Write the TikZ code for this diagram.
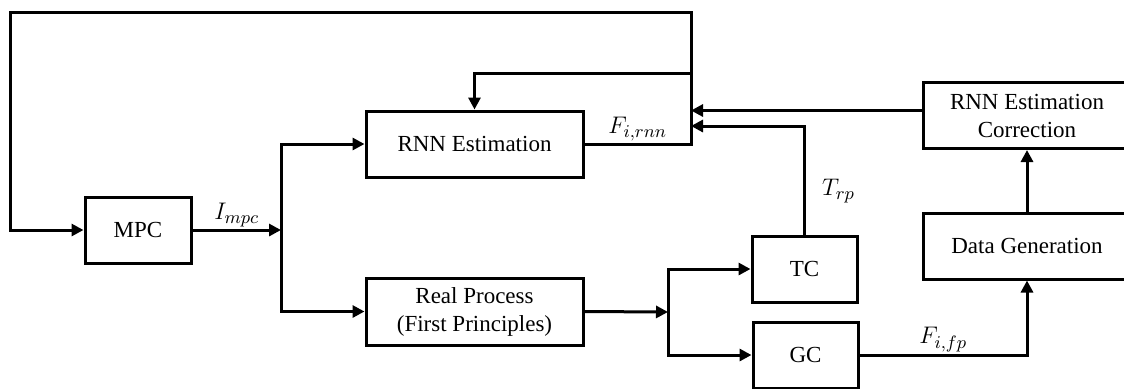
\documentclass[tikz,border=0pt]{standalone}
\usepackage{amsmath}
\usepackage{fontspec}
\setmainfont{Liberation Serif}
\usepackage{tikz}
\usetikzlibrary{arrows.meta,positioning,calc}
\tikzstyle{bloque} = [draw, line width=1.5pt, rectangle, align=center, inner sep=2pt, font=\fontsize{11.5}{14}\selectfont]
\tikzstyle{linea} = [line width=1.5pt]
\tikzstyle{senal} = [linea, -{Triangle[length=6pt,width=6pt]}]
\tikzstyle{etiqueta} = [font=\fontsize{12.5}{14}\selectfont, inner sep=1pt]

\begin{document}
\begin{tikzpicture}[x=0.5pt,y=-0.5pt]
	\useasboundingbox (0,0) rectangle (1124,388);
	\clip (0,0) rectangle (1124,388);
	% bloques
	\node[bloque, minimum width=53pt, minimum height=33pt] (mpc) at (138,230) {MPC};
	\node[bloque, minimum width=108.5pt, minimum height=33pt] (rnn) at (474.5,144) {RNN Estimation};
	\node[bloque, minimum width=108.5pt, minimum height=33.5pt] (rp) at (474.5,311.5) {Real Process\\(First Principles)};
	\node[bloque, minimum width=52.5pt, minimum height=33pt] (tc) at (804.5,269) {TC};
	\node[bloque, minimum width=52.5pt, minimum height=33pt] (gc) at (805.5,355) {GC};
	\node[bloque, minimum width=104pt, minimum height=33pt] (corr) at (1027,115.5) {RNN Estimation\\Correction};
	\node[bloque, minimum width=104pt, minimum height=33pt] (dg) at (1027,246) {Data Generation};
	% puntos de union
	\coordinate (j1) at (281,230);
	\coordinate (j2) at (668,312);
	\coordinate (suma) at (691,144);
	\coordinate (rama) at (691,73);
	\coordinate (esq) at (10,12);
	\coordinate (ent) at (691,126);
	\coordinate (c1) at ([yshift=2.5pt]corr.west);
	% conexiones
	\draw[senal] (mpc.east) -- node[etiqueta, above]{$I_{mpc}$} (j1);
	\draw[senal] (j1) |- (rnn.west);
	\draw[senal] (j1) |- (rp.west);
	\draw[senal] (rnn.east) -- node[etiqueta, above]{$F_{i,rnn}$} (suma) -- (suma |- esq) -- (esq) |- (mpc.west);
	\draw[senal] (rama) -| (rnn.north);
	\draw[senal] (c1) -- (c1 -| suma);
	\draw[senal] (tc.north) |- node[etiqueta, pos=0.2, right=7pt]{$T_{rp}$} (ent);
	\draw[senal] (rp.east) -- (j2);
	\draw[senal] (j2) |- (tc.west);
	\draw[senal] (j2) |- (gc.west);
	\draw[senal] (gc.east) -| node[etiqueta, pos=0.25, above]{$F_{i,fp}$} (dg.south);
	\draw[senal] (dg.north) -- (corr.south);
\end{tikzpicture}
\end{document}
